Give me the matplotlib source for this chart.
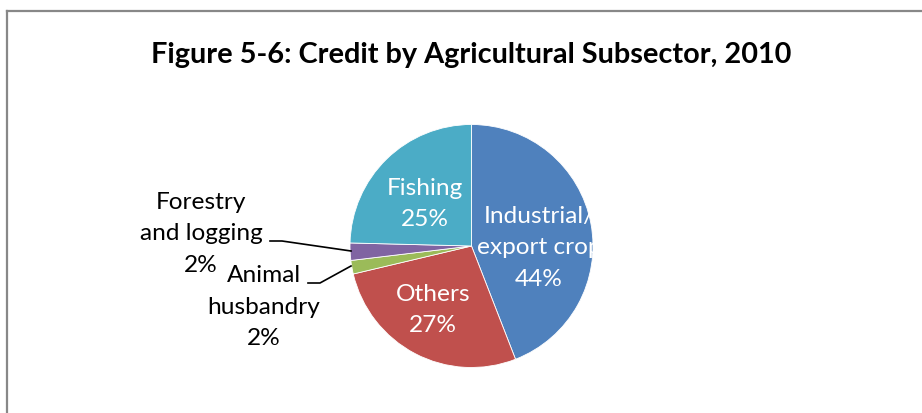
import matplotlib
matplotlib.use("Agg")
import matplotlib.pyplot as plt
from matplotlib.lines import Line2D

title = "Figure 5-6: Credit by Agricultural Subsector, 2010"
categories = ["Industrial/\nexport crop", "Others", "Animal\nhusbandry",
              "Forestry\nand logging", "Fishing"]
values = [44.1, 27.2, 1.8, 2.3, 24.6]
pct_labels = ["44%", "27%", "2%", "2%", "25%"]
colors = ["#4F81BD", "#C0504D", "#9BBB59", "#8064A2", "#4BACC6"]

W, H = 922, 413
fig = plt.figure(figsize=(W / 100, H / 100), dpi=100)
ax = fig.add_axes([0, 0, 1, 1])
ax.set_xlim(0, W)
ax.set_ylim(0, H)
ax.set_aspect("equal")
ax.axis("off")

FONT = "Lato"

# outer border (chart frame)
ax.add_line(Line2D([6.5, 6.5], [0, H - 10.5], color="#888888", lw=1.6))
ax.add_line(Line2D([6.5, W], [H - 10.5, H - 10.5], color="#888888", lw=1.6))

cx, cy, r = 471.5, H - 246, 121.5
wedges, _ = ax.pie(values, colors=colors, startangle=90, counterclock=False,
                   center=(cx, cy), radius=r, frame=True,
                   wedgeprops=dict(linewidth=0.6, edgecolor="white"))
ax.set_xlim(0, W)
ax.set_ylim(0, H)
ax.axis("off")

ax.text(471, H - 55, title, ha="center", va="center", fontsize=20.8,
        fontweight="bold", family=FONT, color="black")

fs = 17.6
ls = 1.6
lab = [c + "\n" + p for c, p in zip(categories, pct_labels)]
# inside labels (white)
ax.text(539, H - 248, lab[0], ha="center", va="center", fontsize=fs,
        family=FONT, color="white", linespacing=ls, clip_on=True,
        clip_path=wedges[0])
ax.text(433, H - 310, lab[1], ha="center", va="center", fontsize=fs,
        family=FONT, color="white", linespacing=ls)
ax.text(425, H - 204, lab[4], ha="center", va="center", fontsize=fs,
        family=FONT, color="white", linespacing=ls)
# outside labels
ax.text(201, H - 234, lab[3], ha="center", va="center", fontsize=fs,
        family=FONT, color="black", linespacing=ls)
ax.text(264, H - 307, lab[2], ha="center", va="center", fontsize=fs,
        family=FONT, color="black", linespacing=ls)

# leader lines
ax.add_line(Line2D([270, 282, 351], [H - 241, H - 241, H - 251],
                   color="black", lw=1.2))
ax.add_line(Line2D([308, 320, 351], [H - 283, H - 283, H - 266],
                   color="black", lw=1.2))

fig.savefig("out.png", dpi=100, facecolor="white")
